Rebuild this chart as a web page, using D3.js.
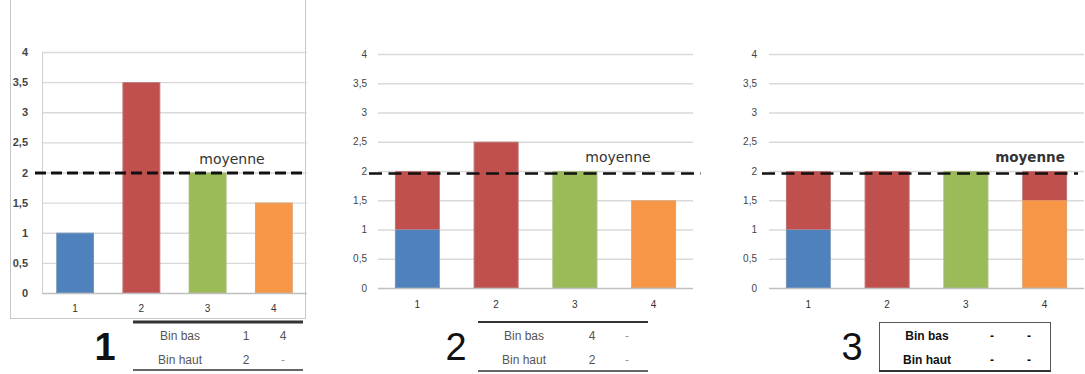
<!DOCTYPE html>
<html><head><meta charset="utf-8">
<script src="https://cdn.jsdelivr.net/npm/d3@7"></script>
<style>body{margin:0;background:#fff}svg{display:block}</style>
</head><body>
<svg id="c" width="1085" height="374"></svg>
<script>
// ---- data ----
const categories = ["1", "2", "3", "4"];
const yTicks = [0, 0.5, 1, 1.5, 2, 2.5, 3, 3.5, 4];
const seriesKeys = ["bleu", "vert", "orange", "rouge"];
const seriesColors = ["#4f81bd", "#9bbb59", "#f79646", "#c0504d"];
// stacked values per panel (bottom to top: bleu, vert, orange, rouge)
const panel1Bleu = [1, 0, 0, 0];
const panel1Vert = [0, 0, 2, 0];
const panel1Orange = [0, 0, 0, 1.5];
const panel1Rouge = [0, 3.5, 0, 0];
const panel2Bleu = [1, 0, 0, 0];
const panel2Vert = [0, 0, 2, 0];
const panel2Orange = [0, 0, 0, 1.5];
const panel2Rouge = [1, 2.5, 0, 0];
const panel3Bleu = [1, 0, 0, 0];
const panel3Vert = [0, 0, 2, 0];
const panel3Orange = [0, 0, 0, 1.5];
const panel3Rouge = [1, 2, 0, 0.5];
const meanValue = 2;
const meanLabel = "moyenne";
const panelNumbers = ["1", "2", "3"];
const table1 = [["Bin bas", "1", "4"], ["Bin haut", "2", "-"]];
const table2 = [["Bin bas", "4", "-"], ["Bin haut", "2", "-"]];
const table3 = [["Bin bas", "-", "-"], ["Bin haut", "-", "-"]];

// ---- layout ----
const svg = d3.select("#c");
const panels = [
  {vals: [panel1Bleu, panel1Vert, panel1Orange, panel1Rouge], table: table1, num: panelNumbers[0],
   x0: 42, x1: 307, y0: 293, y1: 52, labelX: 28, tickSize: 11, tickWeight: "bold", xLabY: 314,
   dash: [35, 304], dashArr: "11,5", dashDy: 0.5, dashW: 3, meanX: 232, meanW: "normal", meanSize: 14,
   tbl: {l: 133, r: 303, top: 322, bot: 370, c0: 180, c1: 246, c2: 283, box: false, bold: false, topW: 3},
   numX: 105, numW: "bold", frame: true, vAxis: true},
  {vals: [panel2Bleu, panel2Vert, panel2Orange, panel2Rouge], table: table2, num: panelNumbers[1],
   x0: 378, x1: 693, y0: 288, y1: 54, labelX: 367, tickSize: 10, tickWeight: "normal", xLabY: 310,
   dash: [369, 701], dashArr: "13,6.5", dashDy: 2.5, dashW: 2.6, meanX: 618, meanW: "normal", meanSize: 14,
   tbl: {l: 478, r: 648, top: 322, bot: 371, c0: 524, c1: 592, c2: 627, box: false, bold: false, topW: 2},
   numX: 456, numW: "normal", frame: false, vAxis: false},
  {vals: [panel3Bleu, panel3Vert, panel3Orange, panel3Rouge], table: table3, num: panelNumbers[2],
   x0: 769, x1: 1084, y0: 288, y1: 54, labelX: 757, tickSize: 10, tickWeight: "normal", xLabY: 310,
   dash: [762, 1078], dashArr: "13,6.5", dashDy: 2.5, dashW: 2.6, meanX: 1030, meanW: "bold", meanSize: 13.5,
   tbl: {l: 879, r: 1050, top: 322, bot: 371, c0: 927, c1: 992, c2: 1029, box: true, bold: true, topW: 1},
   numX: 852, numW: "normal", frame: false, vAxis: false}
];

panels.forEach(p => {
  const g = svg.append("g");
  if (p.frame) {
    g.append("rect").attr("x", 10.5).attr("y", -5).attr("width", 295).attr("height", 323.5)
      .attr("fill", "none").attr("stroke", "#c8c8c8").attr("stroke-width", 1);
  }
  const x = d3.scaleBand().domain(categories).range([p.x0, p.x1]).paddingInner(0.43).paddingOuter(0.215);
  const y = d3.scaleLinear().domain([0, 4]).range([p.y0, p.y1]);

  // grid
  const yAxis = d3.axisLeft(y).tickValues(yTicks).tickSize(-(p.x1 - p.x0))
    .tickFormat(d => String(d).replace(".", ","));
  const ga = g.append("g").attr("transform", `translate(${p.x0},0)`).call(yAxis);
  ga.select(".domain").remove();
  ga.selectAll(".tick line").attr("stroke", d => d === 0 ? "#bfbfbf" : "#d9d9d9").attr("stroke-width", 1.3);
  ga.selectAll(".tick text").attr("x", p.labelX - p.x0).attr("text-anchor", "end")
    .attr("font-family", "Liberation Sans, Arial, sans-serif").attr("font-size", p.tickSize)
    .attr("font-weight", p.tickWeight).attr("fill", "#444");
  if (p.vAxis) {
    g.append("line").attr("x1", p.x0 + 0.5).attr("x2", p.x0 + 0.5).attr("y1", y(4)).attr("y2", y(0))
      .attr("stroke", "#d0d0d0").attr("stroke-width", 1);
  }

  // stacked bars
  const rows = categories.map((c, i) => {
    const o = {cat: c};
    seriesKeys.forEach((k, j) => o[k] = p.vals[j][i]);
    return o;
  });
  const stacked = d3.stack().keys(seriesKeys)(rows);
  stacked.forEach((s, j) => {
    g.append("g").selectAll("rect").data(s.filter(d => d[1] - d[0] > 0)).join("rect")
      .attr("x", d => x(d.data.cat)).attr("width", x.bandwidth())
      .attr("y", d => y(d[1])).attr("height", d => y(d[0]) - y(d[1]))
      .attr("fill", seriesColors[j]);
  });
  // thin outlines
  g.append("g").selectAll("rect").data(rows).join("rect")
    .attr("x", d => x(d.cat) + 0.5).attr("width", x.bandwidth() - 1)
    .attr("y", d => y(d3.sum(seriesKeys, k => d[k])) + 0.5)
    .attr("height", d => y(0) - y(d3.sum(seriesKeys, k => d[k])) - 1)
    .attr("fill", "none").attr("stroke", "#b8b8b8").attr("stroke-width", 0.6).attr("opacity", 0.6);

  // x labels
  const xAxis = d3.axisBottom(x).tickSize(0).tickPadding(0);
  const gx = g.append("g").attr("transform", `translate(0,${p.xLabY - 9})`).call(xAxis);
  gx.select(".domain").remove();
  gx.selectAll("text").attr("font-family", "Liberation Sans, Arial, sans-serif").attr("font-size", 10)
    .attr("fill", "#333").attr("dy", "0.71em");

  // mean line
  const my = y(meanValue) + p.dashDy;
  g.append("line").attr("x1", p.dash[0]).attr("x2", p.dash[1])
    .attr("y1", my).attr("y2", my)
    .attr("stroke", "#111").attr("stroke-width", p.dashW).attr("stroke-dasharray", p.dashArr);
  g.append("text").attr("x", p.meanX).attr("y", y(meanValue) - 9).attr("text-anchor", "middle")
    .attr("font-family", "DejaVu Sans, sans-serif").attr("font-size", p.meanSize)
    .attr("font-weight", p.meanW).attr("fill", "#333").text(meanLabel);

  // big number
  g.append("text").attr("x", p.numX).attr("y", 360).attr("text-anchor", "middle")
    .attr("font-family", "Liberation Sans, Arial, sans-serif").attr("font-size", 38)
    .attr("font-weight", p.numW).attr("fill", "#111").text(p.num);

  // table
  const t = p.tbl;
  if (t.box) {
    g.append("rect").attr("x", t.l + 0.5).attr("y", t.top + 0.5).attr("width", t.r - t.l).attr("height", t.bot - t.top)
      .attr("fill", "none").attr("stroke", "#555").attr("stroke-width", 1);
    g.append("line").attr("x1", t.l).attr("x2", t.r + 1).attr("y1", t.bot).attr("y2", t.bot)
      .attr("stroke", "#333").attr("stroke-width", 2);
  } else {
    g.append("line").attr("x1", t.l).attr("x2", t.r).attr("y1", t.top).attr("y2", t.top)
      .attr("stroke", "#333").attr("stroke-width", t.topW);
    g.append("line").attr("x1", t.l).attr("x2", t.r).attr("y1", t.bot).attr("y2", t.bot)
      .attr("stroke", "#333").attr("stroke-width", 1.5);
  }
  const rowY = [339.5, 364];
  p.table.forEach((row, ri) => {
    const cx = [t.c0, t.c1, t.c2];
    row.forEach((cell, ci) => {
      g.append("text").attr("x", cx[ci]).attr("y", rowY[ri]).attr("text-anchor", "middle")
        .attr("font-family", "Liberation Sans, Arial, sans-serif").attr("font-size", 12)
        .attr("font-weight", t.bold ? "bold" : "normal")
        .attr("fill", t.bold ? "#111" : (cell === "-" ? "#999" : "#555")).text(cell);
    });
  });
});
</script>
</body></html>
